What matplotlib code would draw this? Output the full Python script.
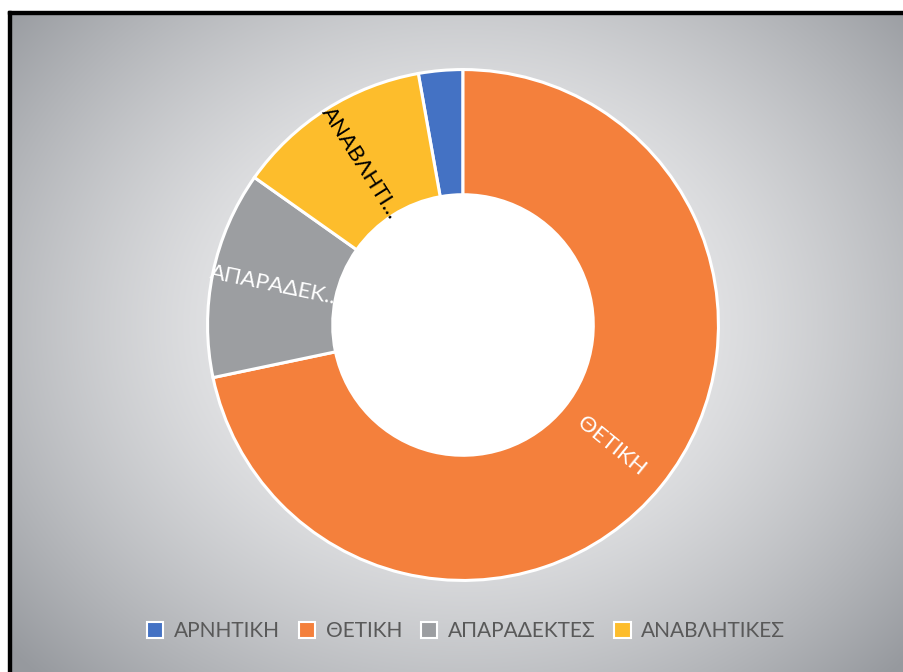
import numpy as np
import matplotlib.pyplot as plt
from matplotlib.patches import Rectangle, Circle

plt.rcParams['font.family'] = ['Lato', 'DejaVu Sans']

# data (share of answers)
labels = ['ΑΡΝΗΤΙΚΗ', 'ΘΕΤΙΚΗ', 'ΑΠΑΡΑΔΕΚΤΕΣ', 'ΑΝΑΒΛΗΤΙΚΕΣ']
slice_text = ['', 'ΘΕΤΙΚΗ', 'ΑΠΑΡΑΔΕΚ...', 'ΑΝΑΒΛΗΤΙ...']
values = [2.8, 71.7, 13.1, 12.4]
colors = ['#4472c4', '#f4803c', '#9c9ea1', '#fdbd2c']
text_colors = ['white', 'white', 'white', 'black']

W, H = 904, 672
fig = plt.figure(figsize=(W / 100, H / 100), dpi=100)
fig.patch.set_facecolor('white')

# radial gradient background
bg = fig.add_axes([11 / W, 0, 1 - 11 / W, (H - 14) / H])
yy, xx = np.mgrid[0:658, 0:893]
cx, cy = 452, 310
d = np.sqrt(((xx - cx) / 600.0) ** 2 + ((yy - cy) / 500.0) ** 2)
d = np.clip(d, 0, 1)
c_in = np.array([248, 248, 249]) / 255.0
c_out = np.array([150, 153, 158]) / 255.0
t = d[..., None] ** 1.6
img = c_in[None, None, :] * (1 - t) + c_out[None, None, :] * t
bg.imshow(img, aspect='auto', interpolation='bilinear')
bg.axis('off')

# black frame (top and left)
fig.patches.append(Rectangle((8 / W, 0), 3 / W, (H - 11) / H, transform=fig.transFigure,
                             color='black', zorder=5))
fig.patches.append(Rectangle((8 / W, (H - 14) / H), 1, 3 / H, transform=fig.transFigure,
                             color='black', zorder=5))

# doughnut
r = 258
px, py = 463, H - 325
ax = fig.add_axes([(px - r) / W, (py - r) / H, 2 * r / W, 2 * r / H])

start = 90 + 360 * values[0] / sum(values)
wedges, _ = ax.pie(values, colors=colors, startangle=start, counterclock=False,
                   radius=1, wedgeprops=dict(width=0.49, edgecolor='white', linewidth=2.2))
ax.add_patch(Circle((0, 0), 0.51, facecolor='white', edgecolor='none', zorder=0))
ax.set_xlim(-1.01, 1.01)
ax.set_ylim(-1.01, 1.01)
ax.axis('off')

for w, txt, tc in zip(wedges, slice_text, text_colors):
    if not txt:
        continue
    mid = (w.theta1 + w.theta2) / 2.0
    rad = np.deg2rad(mid)
    x, y = 0.75 * np.cos(rad), 0.75 * np.sin(rad)
    rot = mid % 360
    if 90 < rot < 270:
        rot -= 180
    ax.text(x, y, txt, rotation=rot, rotation_mode='anchor', ha='center', va='center',
            fontsize=16, color=tc)

leg = fig.legend(wedges, labels, loc='center', bbox_to_anchor=(466 / W, (H - 631) / H),
                 ncol=4, frameon=False, fontsize=15, labelcolor='#595959',
                 handlelength=0.8, handleheight=0.8, handletextpad=0.5, columnspacing=0.9)
for h in leg.legend_handles:
    h.set_edgecolor('white')
    h.set_linewidth(1.5)

fig.savefig('out.png', dpi=100)
